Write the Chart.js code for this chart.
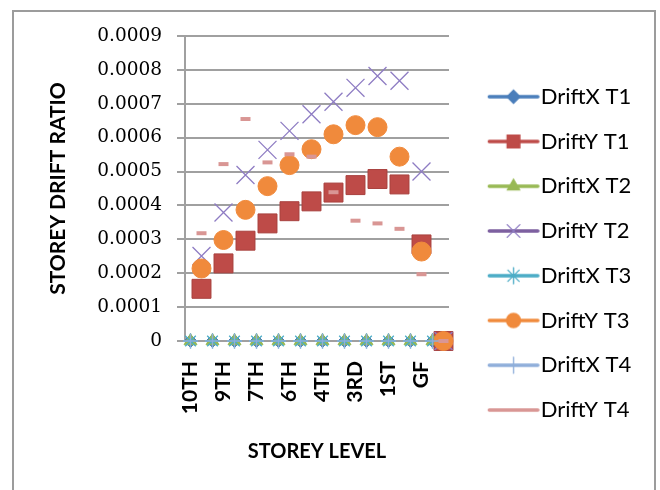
<!DOCTYPE html>
<html>
<head>
<meta charset="utf-8">
<script src="https://cdn.jsdelivr.net/npm/chart.js@4/dist/chart.umd.min.js"></script>
<style>
  html, body { margin: 0; padding: 0; background: #ffffff; }
  canvas { display: block; }
</style>
</head>
<body>
<canvas id="drift" width="660" height="490"></canvas>
<script>
// Storeys from top to bottom. Every storey has two result rows:
// the first holds the X-direction drift, the second the Y-direction drift.
const storeys = ['10TH', '9TH', '8TH', '7TH', '6TH', '5TH', '4TH', '3RD', '2ND', '1ST', 'GF', 'BASE'];

// Y axis tick values
const yTickValues = [0, 0.0001, 0.0002, 0.0003, 0.0004, 0.0005, 0.0006, 0.0007, 0.0008, 0.0009];

// Storey drift ratios per storey (top to bottom)
const driftX_T1 = [0, 0, 0, 0, 0, 0, 0, 0, 0, 0, 0, 0];
const driftY_T1 = [0.000154, 0.000229, 0.000296, 0.000347, 0.000383, 0.000412, 0.000438, 0.000460, 0.000478, 0.000462, 0.000285, 0];
const driftX_T2 = [0, 0, 0, 0, 0, 0, 0, 0, 0, 0, 0, 0];
const driftY_T2 = [0.000251, 0.000379, 0.000490, 0.000564, 0.000620, 0.000669, 0.000706, 0.000747, 0.000782, 0.000768, 0.000500, 0];
const driftX_T3 = [0, 0, 0, 0, 0, 0, 0, 0, 0, 0, 0, 0];
const driftY_T3 = [0.000214, 0.000298, 0.000387, 0.000457, 0.000519, 0.000566, 0.000610, 0.000637, 0.000631, 0.000544, 0.000264, 0];
const driftX_T4 = [0, 0, 0, 0, 0, 0, 0, 0, 0, 0, 0, 0];
const driftY_T4 = [0.000318, 0.000522, 0.000655, 0.000527, 0.000551, 0.000544, 0.000439, 0.000355, 0.000347, 0.000331, 0.000197, 0];

// Two category rows per storey
const rowLabels = storeys.flatMap(s => [s, s]);
const xRows = vals => vals.flatMap(v => [v, null]);
const yRows = vals => vals.flatMap(v => [null, v]);

const series = [
  { label: 'DriftX T1', data: xRows(driftX_T1), color: '#4A7EBB', style: 'rectRot',  r: 6.5,  bw: 1,   icon: { style: 'rectRot', r: 6.5 } },
  { label: 'DriftY T1', data: yRows(driftY_T1), color: '#BE4B48', style: 'rect',     r: 13.4, bw: 1,   icon: { style: 'rect', r: 9 } },
  { label: 'DriftX T2', data: xRows(driftX_T2), color: '#98B954', style: 'triangle', r: 7.5,  bw: 1,   icon: { style: 'triangle', r: 7 } },
  { label: 'DriftY T2', data: yRows(driftY_T2), color: '#8E7CC3', style: 'crossRot', r: 12.7, bw: 1.3, icon: { style: 'crossRot', r: 9 }, line: '#7D60A0' },
  { label: 'DriftX T3', data: xRows(driftX_T3), color: '#4BACC6', style: 'star',     r: 7.5,  bw: 1.3, icon: { style: 'star', r: 8 } },
  { label: 'DriftY T3', data: yRows(driftY_T3), color: '#F08A3C', style: 'circle',   r: 9.5,  bw: 1,   icon: { style: 'circle', r: 7 } },
  { label: 'DriftX T4', data: xRows(driftX_T4), color: '#8FAEDA', style: 'cross',    r: 7.5,  bw: 1.3, icon: { style: 'cross', r: 8 } },
  { label: 'DriftY T4', data: yRows(driftY_T4), color: '#D99694', style: 'line',     r: 5,    bw: 4,   icon: null }
];

// Legend geometry
const LEGEND_FONT = 22;
const LEGEND_PAD = 22.76;
const LEGEND_BOX = 58;
const LEGEND_W = 211;
const ICON_W = 80, ICON_H = 26;

function legendIcon(s) {
  const c = document.createElement('canvas');
  c.width = ICON_W; c.height = ICON_H;
  const g = c.getContext('2d');
  const cy = ICON_H / 2;
  g.lineCap = 'round';
  g.strokeStyle = s.line || s.color;
  g.lineWidth = 3.5;
  g.beginPath();
  g.moveTo(28.5, cy);
  g.lineTo(77, cy);
  g.stroke();
  if (s.icon) {
    g.fillStyle = s.color;
    g.strokeStyle = s.color;
    g.lineWidth = 1.3;
    Chart.helpers.drawPoint(g, { pointStyle: s.icon.style, radius: s.icon.r, borderWidth: 1.3, rotation: 0 }, 52.7, cy);
  }
  return c;
}
const icons = series.map(legendIcon);

const datasets = series.map((s, i) => ({
  label: s.label,
  data: s.data,
  showLine: false,
  borderColor: s.color,
  backgroundColor: s.color,
  pointStyle: s.style,
  pointRadius: s.r,
  pointHoverRadius: s.r,
  pointBorderWidth: s.bw,
  pointBackgroundColor: s.color,
  pointBorderColor: s.style === 'rect' ? '#A9423F' : s.color,
  clip: false,
  order: series.length - i
}));

// Outer frame around the chart
const frame = {
  id: 'frame',
  beforeDraw(chart) {
    const ctx = chart.ctx;
    ctx.save();
    ctx.strokeStyle = '#9c9c9c';
    ctx.lineWidth = 2;
    ctx.strokeRect(13, 11, 642, 500);
    ctx.restore();
  }
};

// Fixed legend column width
const legendColumn = {
  id: 'legendColumn',
  afterInit(chart) {
    const lg = chart.legend;
    if (!lg) return;
    const fit = lg.fit;
    lg.fit = function () { fit.call(this); this.width = LEGEND_W; };
  }
};

new Chart(document.getElementById('drift'), {
  type: 'line',
  data: { labels: rowLabels, datasets },
  plugins: [frame, legendColumn],
  options: {
    responsive: false,
    animation: false,
    devicePixelRatio: 1,
    layout: { padding: { left: 0, right: 0, top: 36, bottom: 19.3 } },
    plugins: {
      tooltip: { enabled: false },
      legend: {
        position: 'right',
        align: 'center',
        labels: {
          usePointStyle: true,
          pointStyleWidth: LEGEND_BOX,
          boxHeight: LEGEND_FONT,
          padding: LEGEND_PAD,
          color: '#000000',
          font: { family: 'Lato', size: LEGEND_FONT },
          generateLabels(chart) {
            return chart.data.datasets.map((ds, i) => ({
              text: ds.label,
              pointStyle: icons[i],
              fillStyle: 'transparent',
              strokeStyle: 'transparent',
              lineWidth: 0,
              hidden: false,
              datasetIndex: i,
              fontColor: '#000000'
            }));
          }
        }
      }
    },
    scales: {
      x: {
        type: 'category',
        offset: true,
        afterFit(scale) { scale.height = 129.7; },
        grid: { display: false, drawTicks: false },
        border: { display: true, color: '#a0a0a0', width: 2 },
        ticks: {
          autoSkip: false,
          minRotation: 90,
          maxRotation: 90,
          padding: 20,
          color: '#000000',
          font: { family: 'Lato', size: 21, weight: 'bold' },
          callback(value, index) { return index % 3 === 0 ? this.getLabelForValue(value) : ''; }
        },
        title: {
          display: true,
          text: 'STOREY LEVEL',
          color: '#000000',
          font: { family: 'Lato', size: 20, weight: 'bold' },
          padding: { top: 0, bottom: 6.7 }
        }
      },
      y: {
        min: 0,
        max: 0.0009,
        afterFit(scale) { scale.width = 185; },
        afterBuildTicks(scale) { scale.ticks = yTickValues.map(v => ({ value: v })); },
        grid: { color: '#a0a0a0', lineWidth: 2, tickLength: 8, drawTicks: true },
        border: { display: true, color: '#a0a0a0', width: 2 },
        ticks: {
          padding: 15,
          color: '#000000',
          font: { family: 'DejaVu Serif', size: 18.5 },
          callback(value) { return value === 0 ? '0' : value.toFixed(4); }
        },
        title: {
          display: true,
          text: 'STOREY DRIFT RATIO',
          color: '#000000',
          font: { family: 'Lato', size: 21, weight: 'bold' },
          padding: { top: 45.5, bottom: 0 }
        }
      }
    }
  }
});
</script>
</body>
</html>
